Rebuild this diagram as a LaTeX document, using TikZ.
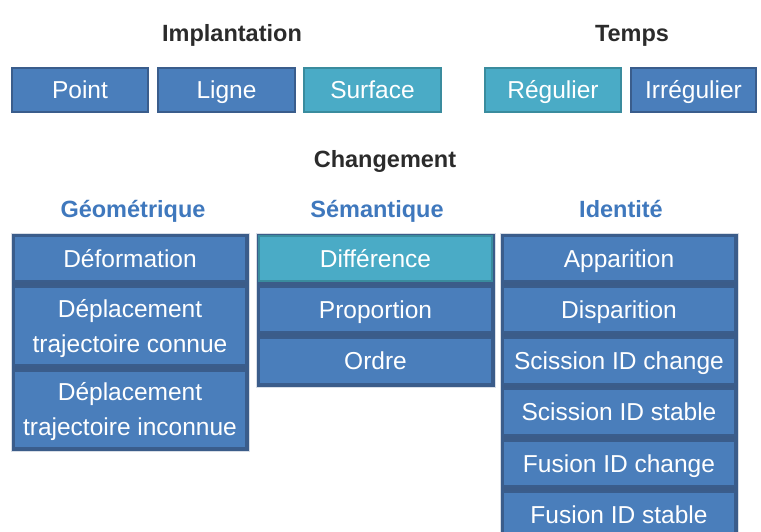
\documentclass[tikz,border=0pt]{standalone}
\usepackage{fontspec}
\setmainfont{Liberation Sans}
\definecolor{cellblue}{HTML}{4A7EBB}
\definecolor{celledge}{HTML}{3A5D8C}
\definecolor{cellcyan}{HTML}{4AABC6}
\definecolor{cyanedge}{HTML}{3A8C9E}
\definecolor{framedark}{HTML}{3B5C89}
\definecolor{titleblue}{HTML}{3F78BD}
\definecolor{titledark}{HTML}{2B2B2B}
\tikzset{
  cell/.style={fill=cellblue, draw=celledge, line width=2.5pt, inner sep=0pt,
    text=white, font=\fontsize{24.5}{35}\selectfont, align=center,
    text height=23pt, text depth=5.5pt},
  % two lines: the box baseline is the last line, so add one baselineskip
  twoline/.style={text height=58pt},
  hicell/.style={cell, fill=cellcyan, draw=cyanedge},
  colframe/.style={fill=framedark, draw=white!80!framedark, line width=0.8pt},
  head/.style={font=\bfseries\fontsize{23.5}{27}\selectfont, text=titledark,
    anchor=base, inner sep=0pt},
  subhead/.style={head, text=titleblue},
}
% a box given by its corners: #1 name, #2 style, #3 left, #4 top, #5 right, #6 bottom, #7 text
\newcommand{\boxcell}[7]{%
  \node[#2, minimum width=#5-#3, minimum height=#6-#4] (#1)
    at ({(#3+#5)/2},{(#4+#6)/2}) {#7};}
\begin{document}
\begin{tikzpicture}[x=1pt,y=-1pt]
\useasboundingbox (0,0) rectangle (761,531);

% section headings (placed on their baselines)
\node[head] (himpl) at (232,41) {Implantation};
\node[head] (htemps) at (632,41) {Temps};
\node[head] (hchg) at (385,167) {Changement};
\node[subhead] (hgeo) at (133,217) {Géométrique};
\node[subhead] (hsem) at (377,217) {Sémantique};
\node[subhead] (hid) at (621,217) {Identité};

% implantation and time boxes
\boxcell{point}{cell}{12}{68}{148}{112}{Point}
\boxcell{ligne}{cell}{158}{68}{295}{112}{Ligne}
\boxcell{surface}{hicell}{304}{68}{441}{112}{Surface}
\boxcell{regulier}{hicell}{485}{68}{621}{112}{Régulier}
\boxcell{irregulier}{cell}{631}{68}{756}{112}{Irrégulier}

% column frames
\fill[colframe] (11,233) rectangle (249,451);
\fill[colframe] (256,233) rectangle (495,387);
\fill[colframe] (500,233) rectangle (738,540);

% geometric changes
\boxcell{deform}{cell}{14}{236}{246}{281}{Déformation}
\boxcell{depcon}{cell,twoline}{14}{287}{246}{365}{Déplacement\\trajectoire connue}
\boxcell{depinc}{cell,twoline}{14}{371}{246}{448}{Déplacement\\trajectoire inconnue}

% semantic changes
\boxcell{diff}{hicell}{259}{236}{492}{281}{Différence}
\boxcell{prop}{cell}{259}{287}{492}{332}{Proportion}
\boxcell{ordre}{cell}{259}{338}{492}{384}{Ordre}

% identity changes
\boxcell{appar}{cell}{503}{236}{735}{281}{Apparition}
\boxcell{dispar}{cell}{503}{287}{735}{332}{Disparition}
\boxcell{scich}{cell}{503}{338}{735}{384}{Scission ID change}
\boxcell{scist}{cell}{503}{389}{735}{435}{Scission ID stable}
\boxcell{fusch}{cell}{503}{441}{735}{486}{Fusion ID change}
\boxcell{fusst}{cell}{503}{492}{735}{537}{Fusion ID stable}
\end{tikzpicture}
\end{document}
